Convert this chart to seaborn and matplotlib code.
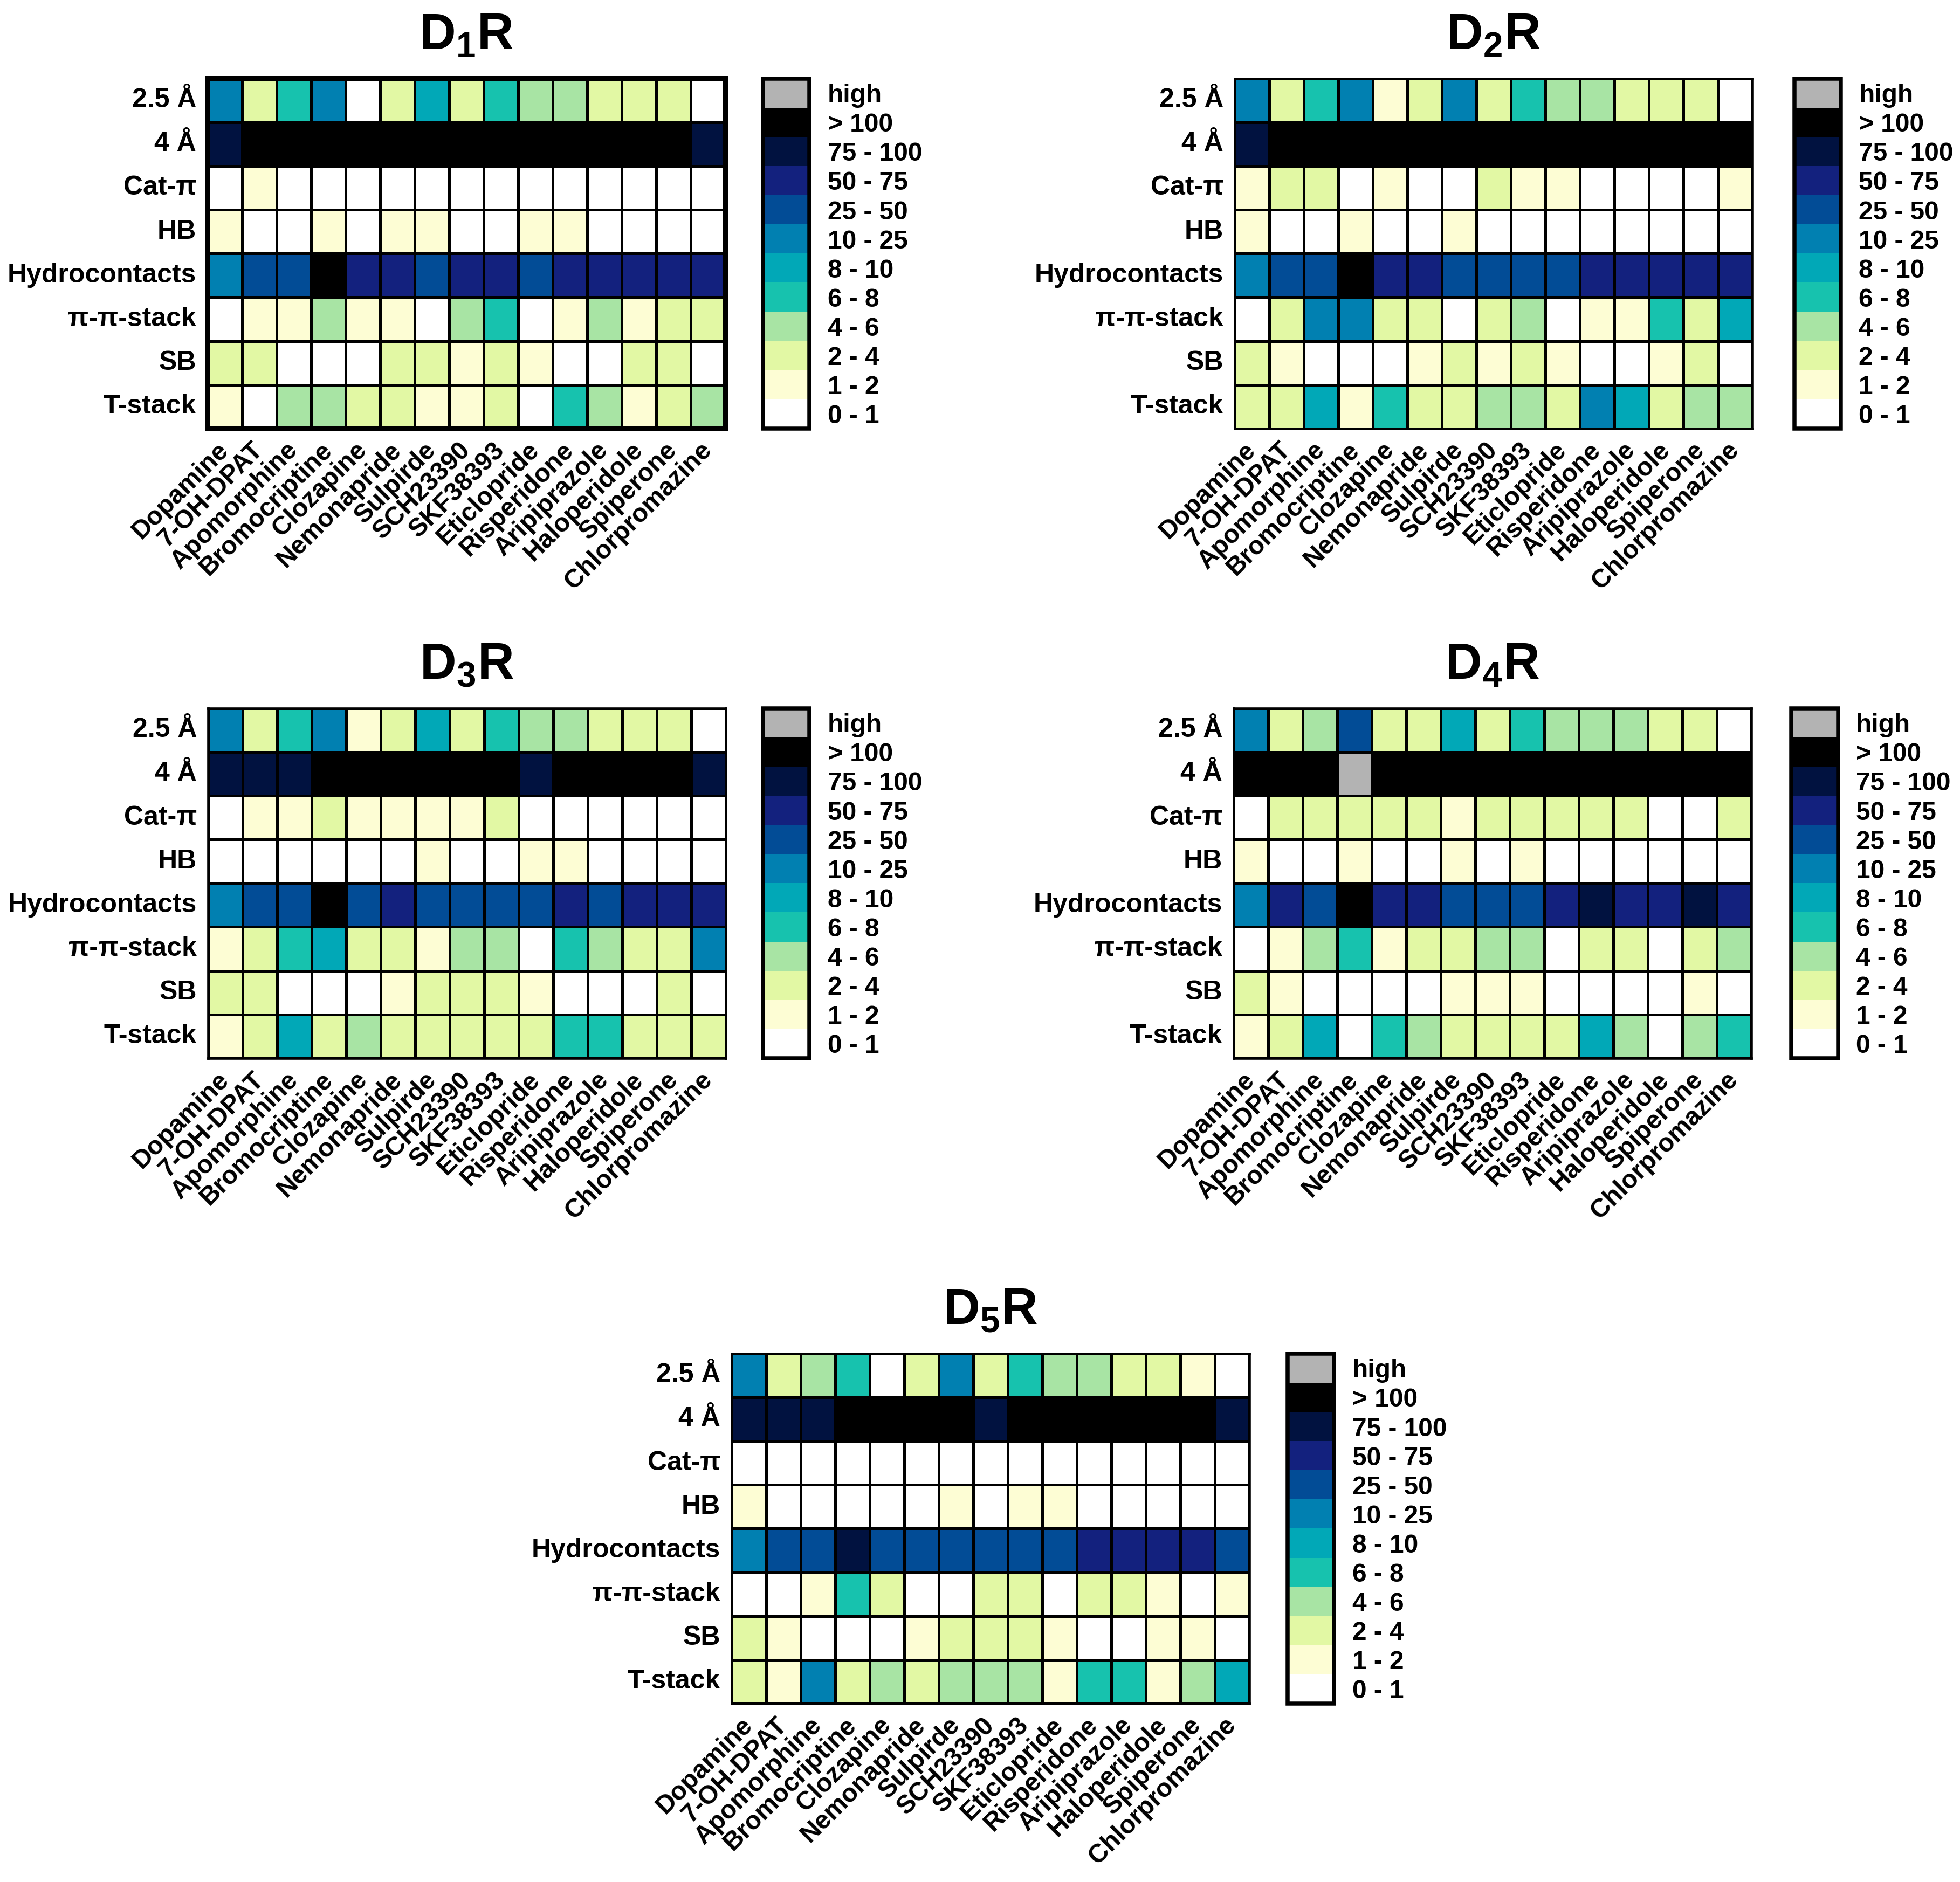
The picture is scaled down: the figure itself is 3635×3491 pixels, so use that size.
import numpy as np
import pandas as pd
import matplotlib
matplotlib.use("Agg")
import matplotlib.pyplot as plt
from matplotlib.colors import ListedColormap
import seaborn as sns

# interaction types (rows) and ligands (columns)
interactions = ['2.5 Å', '4 Å', 'Cat-π', 'HB', 'Hydrocontacts', 'π-π-stack', 'SB', 'T-stack']
ligands = ['Dopamine', '7-OH-DPAT', 'Apomorphine', 'Bromocriptine', 'Clozapine',
           'Nemonapride', 'Sulpirde', 'SCH23390', 'SKF38393', 'Eticlopride',
           'Risperidone', 'Aripiprazole', 'Haloperidole', 'Spiperone', 'Chlorpromazine']

# binned categories shown in the legend (index = bin)
bin_labels = ['0 - 1', '1 - 2', '2 - 4', '4 - 6', '6 - 8', '8 - 10', '10 - 25',
              '25 - 50', '50 - 75', '75 - 100', '> 100', 'high']
bin_colors = ['#ffffff', '#fdfdd4', '#e2f8a4', '#a8e4a4', '#17c2ae', '#01a8b7',
              '#0180b1', '#024c96', '#13217e', '#011240', '#000000', '#b3b3b3']

# bin index per cell (rows = interactions, cols = ligands)
d1r_bins = [
    [6, 2, 4, 6, 0, 2, 5, 2, 4, 3, 3, 2, 2, 2, 0],
    [9, 10, 10, 10, 10, 10, 10, 10, 10, 10, 10, 10, 10, 10, 9],
    [0, 1, 0, 0, 0, 0, 0, 0, 0, 0, 0, 0, 0, 0, 0],
    [1, 0, 0, 1, 0, 1, 1, 0, 0, 1, 1, 0, 0, 0, 0],
    [6, 7, 7, 10, 8, 8, 7, 8, 8, 7, 8, 8, 8, 8, 8],
    [0, 1, 1, 3, 1, 1, 0, 3, 4, 0, 1, 3, 1, 2, 2],
    [2, 2, 0, 0, 0, 2, 2, 1, 2, 1, 0, 0, 2, 2, 0],
    [1, 0, 3, 3, 2, 2, 1, 1, 2, 0, 4, 3, 1, 2, 3],
]
d2r_bins = [
    [6, 2, 4, 6, 1, 2, 6, 2, 4, 3, 3, 2, 2, 2, 0],
    [9, 10, 10, 10, 10, 10, 10, 10, 10, 10, 10, 10, 10, 10, 10],
    [1, 2, 2, 0, 1, 0, 0, 2, 1, 1, 0, 0, 0, 0, 1],
    [1, 0, 0, 1, 0, 0, 1, 0, 0, 0, 0, 0, 0, 0, 0],
    [6, 7, 7, 10, 8, 8, 7, 7, 7, 7, 8, 8, 8, 8, 8],
    [0, 2, 6, 6, 2, 2, 0, 2, 3, 0, 1, 1, 4, 2, 5],
    [2, 1, 0, 0, 0, 1, 2, 1, 2, 1, 0, 0, 1, 2, 0],
    [2, 2, 5, 1, 4, 2, 2, 3, 3, 2, 6, 5, 2, 3, 3],
]
d3r_bins = [
    [6, 2, 4, 6, 1, 2, 5, 2, 4, 3, 3, 2, 2, 2, 0],
    [9, 9, 9, 10, 10, 10, 10, 10, 10, 9, 10, 10, 10, 10, 9],
    [0, 1, 1, 2, 1, 1, 1, 1, 2, 0, 0, 0, 0, 0, 0],
    [0, 0, 0, 0, 0, 0, 1, 0, 0, 1, 1, 0, 0, 0, 0],
    [6, 7, 7, 10, 7, 8, 7, 7, 7, 7, 8, 7, 8, 8, 8],
    [1, 2, 4, 5, 2, 2, 1, 3, 3, 0, 4, 3, 2, 2, 6],
    [2, 2, 0, 0, 0, 1, 2, 2, 2, 1, 0, 0, 0, 2, 0],
    [1, 2, 5, 2, 3, 2, 2, 2, 2, 2, 4, 4, 2, 2, 2],
]
d4r_bins = [
    [6, 2, 3, 7, 2, 2, 5, 2, 4, 3, 3, 3, 2, 2, 0],
    [10, 10, 10, 11, 10, 10, 10, 10, 10, 10, 10, 10, 10, 10, 10],
    [0, 2, 2, 2, 2, 2, 1, 2, 2, 2, 2, 2, 0, 0, 2],
    [1, 0, 0, 1, 0, 0, 1, 0, 1, 0, 0, 0, 0, 0, 0],
    [6, 8, 7, 10, 8, 8, 7, 7, 7, 8, 9, 8, 8, 9, 8],
    [0, 1, 3, 4, 1, 2, 2, 3, 3, 0, 2, 2, 0, 2, 3],
    [2, 1, 0, 0, 0, 0, 1, 1, 1, 0, 0, 0, 0, 1, 0],
    [1, 2, 5, 0, 4, 3, 2, 2, 2, 2, 5, 3, 0, 3, 4],
]
d5r_bins = [
    [6, 2, 3, 4, 0, 2, 6, 2, 4, 3, 3, 2, 2, 1, 0],
    [9, 9, 9, 10, 10, 10, 10, 9, 10, 10, 10, 10, 10, 10, 9],
    [0, 0, 0, 0, 0, 0, 0, 0, 0, 0, 0, 0, 0, 0, 0],
    [1, 0, 0, 0, 0, 0, 1, 0, 1, 1, 0, 0, 0, 0, 0],
    [6, 7, 7, 9, 7, 7, 7, 7, 7, 7, 8, 8, 8, 8, 7],
    [0, 0, 1, 4, 2, 0, 0, 2, 2, 0, 2, 2, 1, 0, 1],
    [2, 1, 0, 0, 0, 1, 2, 2, 2, 1, 0, 0, 1, 1, 0],
    [2, 1, 6, 2, 3, 2, 3, 3, 3, 1, 4, 4, 1, 3, 5],
]

sns.set_style("white")
plt.rcParams['font.family'] = ['Liberation Sans', 'DejaVu Sans']
plt.rcParams['font.weight'] = 'bold'
plt.rcParams['mathtext.fontset'] = 'custom'
plt.rcParams['mathtext.rm'] = 'Liberation Sans'
plt.rcParams['mathtext.bf'] = 'Liberation Sans:bold'
plt.rcParams['text.color'] = 'black'
plt.rcParams['xtick.color'] = 'black'
plt.rcParams['ytick.color'] = 'black'
plt.rcParams['axes.labelcolor'] = 'black'

cmap = ListedColormap(bin_colors)

fig = plt.figure(figsize=(3635 / 300, 3491 / 300), dpi=300)

W, H = 0.2641, 0.186
CW = 0.0237
panels = [
    (r'$\mathbf{D_1R}$', d1r_bins, (0.1059, 0.7723), 0.3893, 2.4),
    (r'$\mathbf{D_2R}$', d2r_bins, (0.6300, 0.7723), 0.9155, 1.1),
    (r'$\mathbf{D_3R}$', d3r_bins, (0.1062, 0.4377), 0.3893, 1.1),
    (r'$\mathbf{D_4R}$', d4r_bins, (0.6294, 0.4377), 0.9140, 1.1),
    (r'$\mathbf{D_5R}$', d5r_bins, (0.3733, 0.0948), 0.6570, 1.1),
]

for title, bins, (left, bottom), cleft, frame_lw in panels:
    ax = fig.add_axes([left, bottom, W, H])
    cax = fig.add_axes([cleft, bottom, CW, H])
    df = pd.DataFrame(bins, index=interactions, columns=ligands)

    sns.heatmap(df, cmap=cmap, vmin=-0.5, vmax=11.5, linewidths=0.75,
                linecolor='black', ax=ax, cbar_ax=cax,
                cbar_kws={'ticks': list(range(12))})

    for spine in ax.spines.values():
        spine.set_visible(True)
        spine.set_linewidth(frame_lw)
        spine.set_color('black')

    ax.set_title(title, fontsize=22.5, fontweight='bold', pad=13, color='black')
    ax.set_xlabel('')
    ax.set_ylabel('')
    ax.tick_params(axis='both', length=0)
    ax.tick_params(axis='y', pad=5)
    ax.tick_params(axis='x', pad=8)
    ax.set_yticklabels(interactions, rotation=0, fontsize=12, fontweight='bold')
    ax.set_xticklabels(ligands, rotation=45, ha='right', va='center',
                       rotation_mode='anchor', fontsize=11.5, fontweight='bold')

    cbar = ax.collections[0].colorbar
    cbar.set_ticks(list(range(12)), labels=bin_labels)
    cbar.outline.set_linewidth(1.8)
    cbar.outline.set_edgecolor('black')
    cbar.ax.set_yticks(list(range(10)), minor=True)
    cbar.ax.tick_params(which='major', length=0, pad=8, labelsize=11.5)
    cbar.ax.tick_params(which='minor', direction='in', left=True, right=True,
                        length=4, width=1.2, color='black')
    for lab in cbar.ax.get_yticklabels():
        lab.set_fontweight('bold')

fig.savefig('out.png', dpi=300, facecolor='white')
